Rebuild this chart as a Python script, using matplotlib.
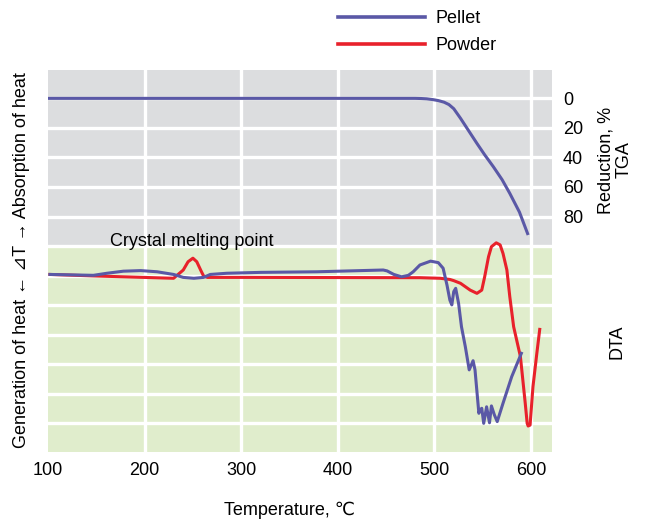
import matplotlib.pyplot as plt
from matplotlib.lines import Line2D

# TGA (reduction, %) - pellet only
tga_temp = [100, 480, 486, 492, 498, 504, 510, 515, 520, 527, 535, 544, 552, 561, 570, 578, 588, 597]
tga_pellet = [0, 0, 0.1, 0.3, 0.8, 1.5, 2.6, 4.2, 7.0, 13.5, 21.5, 30.5, 38.2, 46.3, 55.0, 64.3, 77.0, 92.5]

# DTA (arbitrary units, + = absorption of heat)
dta_pellet_t = [102, 147, 161, 178, 196, 213, 230, 240, 251, 261, 268, 285, 320, 378, 447, 451,
                458, 466, 473, 478, 485, 496, 504, 509, 513, 516, 518, 520, 522, 525, 528, 532,
                536, 540, 542, 546, 547, 549, 551, 554, 557, 559, 562, 565, 571, 580, 590]
dta_pellet = [0.04, 0.01, 0.08, 0.15, 0.17, 0.13, 0.04, -0.06, -0.09, -0.06, 0.04, 0.08, 0.11, 0.13,
              0.19, 0.16, 0.04, -0.04, 0.01, 0.13, 0.36, 0.49, 0.44, 0.25, -0.32, -0.83, -0.99,
              -0.54, -0.43, -0.94, -1.73, -2.41, -3.19, -2.88, -3.19, -4.66, -4.55, -4.49, -5.0,
              -4.44, -4.98, -4.41, -4.71, -4.94, -4.32, -3.42, -2.63]

dta_powder_t = [102, 147, 230, 240, 245, 250, 254, 258, 261, 265, 309, 485, 506, 516, 520, 527,
                537, 544, 549, 552, 556, 559, 564, 568, 571, 575, 578, 582, 589, 594, 596, 597,
                599, 602, 606, 609]
dta_powder = [0.04, -0.01, -0.09, 0.19, 0.47, 0.59, 0.47, 0.19, -0.01, -0.06, -0.06, -0.07, -0.09,
              -0.13, -0.17, -0.26, -0.49, -0.6, -0.49, -0.04, 0.64, 0.98, 1.11, 1.04, 0.75, 0.19,
              -0.71, -1.73, -2.74, -4.32, -5.0, -5.09, -5.06, -3.76, -2.63, -1.82]

xticks = [100, 200, 300, 400, 500, 600]
tga_ticks = [0, 20, 40, 60, 80]

blue = '#5a58a6'
red = '#e8212b'
font = ['Liberation Sans', 'DejaVu Sans', 'Noto Sans CJK JP']
plt.rcParams['font.family'] = font
plt.rcParams['font.size'] = 13

fig = plt.figure(figsize=(6.52, 5.25), dpi=100)
ax = fig.add_axes([48 / 652, 73 / 525, 504 / 652, 382 / 525])
ax.set_xlim(100, 621.7)
ax.set_ylim(239.4, -19.2)

ax.axhspan(-19.2, 100, color='#dcdddf', zorder=0, lw=0)
ax.axhspan(100, 239.4, color='#e0edcc', zorder=0, lw=0)
for v in range(200, 700, 100):
    ax.axvline(v, color='white', lw=2.4, zorder=1)
for h in range(0, 240, 20):
    ax.axhline(h, color='white', lw=2.4, zorder=1)

ax.plot(tga_temp, tga_pellet, color=blue, lw=2.2, zorder=3, solid_capstyle='butt')

dta = ax.twinx()
dta.set_ylim(-5.97, 6.96)
dta.set_yticks([])
for s in dta.spines.values():
    s.set_visible(False)
dta.plot(dta_powder_t, dta_powder, color=red, lw=2.2, zorder=3)
dta.plot(dta_pellet_t, dta_pellet, color=blue, lw=2.2, zorder=4)
dta.text(249, 1.14, 'Crystal melting point', ha='center', va='center')

ax.yaxis.tick_right()
ax.set_yticks(tga_ticks)
ax.set_xticks(xticks)
ax.tick_params(length=0)
ax.tick_params(axis='y', pad=8)
ax.tick_params(axis='x', pad=7)
for s in ax.spines.values():
    s.set_visible(False)

fig.text(290 / 652, 1 - 510 / 525, 'Temperature, \u2103', ha='center', va='center')
fig.text(22 / 652, 1 - 260 / 525, 'Generation of heat \u2190 \u22bfT \u2192 Absorption of heat',
         rotation=90, ha='center', va='center')
fig.text(615 / 652, 1 - 160 / 525, 'Reduction, %\nTGA', rotation=90, ha='center', va='center',
         multialignment='center', linespacing=1.15)
fig.text(617 / 652, 1 - 342 / 525, 'DTA', rotation=90, ha='center', va='center')

handles = [Line2D([], [], color=blue, lw=2.6), Line2D([], [], color=red, lw=2.6)]
fig.legend(handles, ['Pellet', 'Powder'], loc='upper left', bbox_to_anchor=(338 / 652, 1 - 10 / 525),
           frameon=False, handlelength=4.8, handletextpad=0.6, labelspacing=0.55, borderpad=0,
           borderaxespad=0, fontsize=13)

fig.savefig('out.png', dpi=100)
